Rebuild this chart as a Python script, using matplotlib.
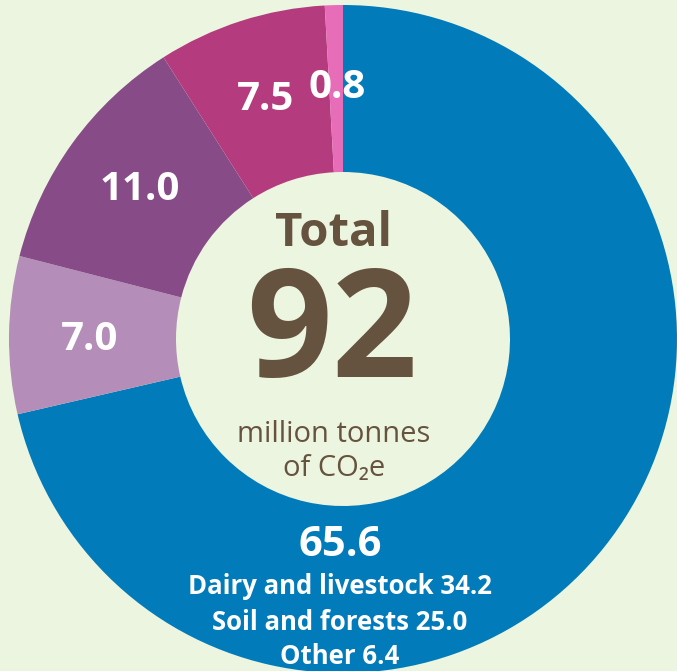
import matplotlib
matplotlib.use("Agg")
import matplotlib.pyplot as plt

# Data
segments = ["Agriculture", "Segment B", "Segment C", "Segment D", "Segment E"]
values = [65.6, 7.0, 11.0, 7.5, 0.8]
labels = ["65.6", "7.0", "11.0", "7.5", "0.8"]
colors = ["#027BBA", "#B48DB8", "#874C88", "#B43C7E", "#E86DB8"]
breakdown = ["Dairy and livestock 34.2", "Soil and forests 25.0", "Other 6.4"]
total = 92

bg = "#EBF5DF"
brown = "#66533F"
fam = ["Open Sans", "DejaVu Sans"]

W, H = 677, 671
fig = plt.figure(figsize=(W / 100, H / 100), dpi=100, facecolor=bg)
ax = fig.add_axes([0, 0, 1, 1])
ax.set_facecolor(bg)

cx, cy = 343, H - 339
r_out, r_in = 334, 167

ax.pie(values, colors=colors, startangle=90, counterclock=False,
       center=(cx, cy), radius=r_out, frame=True,
       wedgeprops=dict(width=r_out - r_in, linewidth=0))
ax.set_xlim(0, W)
ax.set_ylim(0, H)
ax.set_aspect("equal")
ax.axis("off")

# slice labels (pixel positions from the reference)
label_pos = {"7.0": (90, 340), "11.0": (140, 190), "7.5": (266, 100), "0.8": (337, 88)}
for lab in labels[1:]:
    x, y = label_pos[lab]
    ax.text(x, H - y, lab, color="white", fontsize=29, fontweight="bold",
            family=fam, ha="center", va="center")

ax.text(340, H - 545, labels[0], color="white", fontsize=30, fontweight="bold",
        family=fam, ha="center", va="center")
for i, line in enumerate(breakdown):
    ax.text(340, H - (587 + i * 35), line, color="white", fontsize=18.5,
            fontweight="bold", family=fam, ha="center", va="center")

# centre text
ax.text(334, H - 234, "Total", color=brown, fontsize=34, fontweight="bold",
        family=fam, ha="center", va="center")
ax.text(332, H - 338, str(total), color=brown, fontsize=108, fontweight="bold",
        family=fam, ha="center", va="center")
ax.text(334, H - 435, "million tonnes", color=brown, fontsize=21,
        family=fam, ha="center", va="center")
ax.text(334, H - 468, "of CO\u2082e", color=brown, fontsize=21,
        family=fam, ha="center", va="center")

fig.savefig("out.png", dpi=100, facecolor=bg)
